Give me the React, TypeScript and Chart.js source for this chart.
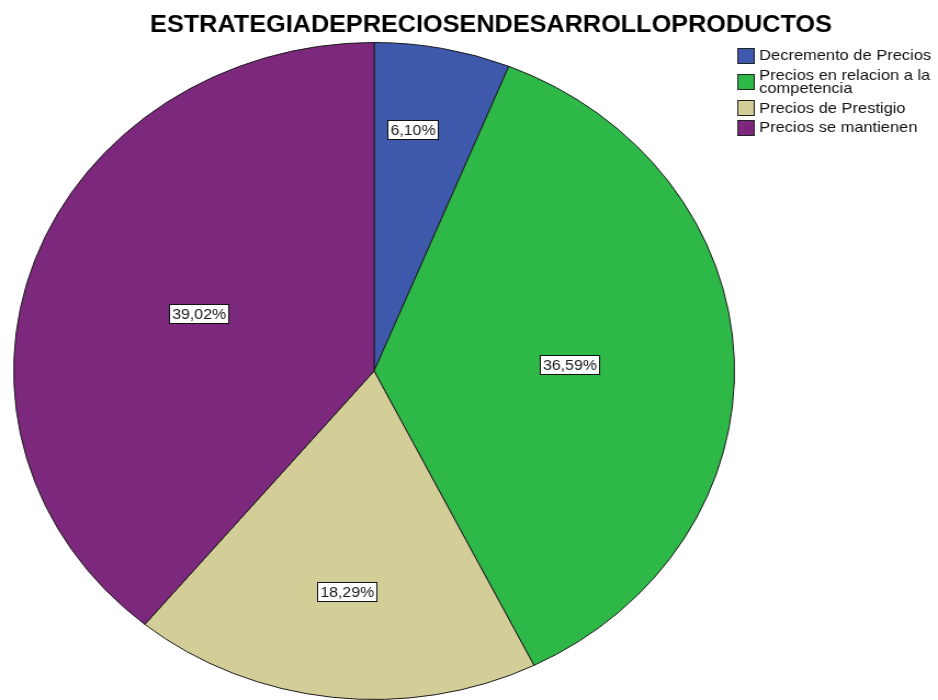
import React, { useEffect, useRef } from "react";
import { Chart, registerables } from "chart.js";

Chart.register(...registerables);

const chartTitle = "ESTRATEGIADEPRECIOSENDESARROLLOPRODUCTOS";
const categories = [
  "Decremento de Precios",
  "Precios en relacion a la competencia",
  "Precios de Prestigio",
  "Precios se mantienen",
];
const legendLines = [
  ["Decremento de Precios"],
  ["Precios en relacion a la", "competencia"],
  ["Precios de Prestigio"],
  ["Precios se mantienen"],
];
const counts = [5, 30, 15, 32];
const colors = ["#3E58AC", "#2EB848", "#D3CE97", "#7C287D"];
const labelRadius = [0.742, 0.541, 0.676, 0.519];
const labelAnglePos = [0.38, 0.5, 0.5, 0.5];

const FONT = '"Liberation Sans", Arial, sans-serif';
const CANVAS_W = 855;
const CANVAS_H = 700;
const STRETCH = 938 / CANVAS_W;

const total = counts.reduce((a, b) => a + b, 0);
const pctText = counts.map((v) => ((v / total) * 100).toFixed(2).replace(".", ",") + "%");

const decorPlugin = {
  id: "decor",
  afterDraw(chart: any) {
    const ctx = chart.ctx as CanvasRenderingContext2D;
    ctx.save();
    // title
    ctx.fillStyle = "#000";
    ctx.font = `bold 23px ${FONT}`;
    ctx.textAlign = "center";
    ctx.textBaseline = "middle";
    ctx.fillText(chartTitle, 447.6, 26);

    // slice labels
    const meta = chart.getDatasetMeta(0);
    ctx.font = `14.5px ${FONT}`;
    meta.data.forEach((arc: any, i: number) => {
      const p = arc.getProps(["x", "y", "startAngle", "endAngle", "outerRadius"], true);
      const a = p.startAngle + (p.endAngle - p.startAngle) * labelAnglePos[i];
      const r = p.outerRadius * labelRadius[i];
      const lx = p.x + Math.cos(a) * r;
      const ly = p.y + Math.sin(a) * r;
      const txt = pctText[i];
      const tw = ctx.measureText(txt).width;
      const bw = Math.round(tw + 5);
      const bh = 19;
      const bx = Math.round(lx - bw / 2) + 0.5;
      const by = Math.round(ly - bh / 2) + 0.5;
      ctx.fillStyle = "#fff";
      ctx.fillRect(bx, by, bw, bh);
      ctx.strokeStyle = "#111";
      ctx.lineWidth = 1;
      ctx.strokeRect(bx, by, bw, bh);
      ctx.fillStyle = "#1a1a1a";
      ctx.textAlign = "center";
      ctx.textBaseline = "middle";
      ctx.fillText(txt, bx + bw / 2, by + bh / 2 + 0.5);
    });

    // legend
    ctx.font = `15px ${FONT}`;
    ctx.textAlign = "left";
    ctx.textBaseline = "middle";
    const lineH = 13;
    const itemGap = 19.7;
    let y = 55;
    legendLines.forEach((lines, i) => {
      const first = y;
      const last = y + (lines.length - 1) * lineH;
      const cy = (first + last) / 2;
      const sy = Math.round(cy - 7.5) + 0.5;
      ctx.fillStyle = colors[i];
      ctx.fillRect(672.5, sy, 15, 15);
      ctx.strokeStyle = "#222";
      ctx.strokeRect(672.5, sy, 15, 15);
      ctx.fillStyle = "#111";
      lines.forEach((ln, k) => ctx.fillText(ln, 692, first + k * lineH + 1));
      y = last + itemGap;
    });
    ctx.restore();
  },
};

export default function App() {
  const ref = useRef<HTMLCanvasElement | null>(null);
  useEffect(() => {
    if (!ref.current) return;
    const chart = new Chart(ref.current, {
      type: "pie",
      data: {
        labels: categories,
        datasets: [
          {
            data: counts,
            backgroundColor: colors,
            borderColor: "#1a1a1a",
            borderWidth: 1,
          },
        ],
      },
      options: {
        responsive: false,
        animation: false,
        layout: { padding: { top: 42, bottom: -5, left: 0, right: 173 } },
        plugins: {
          legend: { display: false },
          tooltip: { enabled: false },
          title: { display: false },
        },
      },
      plugins: [decorPlugin],
    });
    return () => chart.destroy();
  }, []);
  return (
    <div
      style={{
        position: "absolute",
        left: 0,
        top: 0,
        width: 938,
        height: 700,
        overflow: "hidden",
        background: "#fff",
      }}
    >
      <canvas
        ref={ref}
        width={CANVAS_W}
        height={CANVAS_H}
        style={{
          width: CANVAS_W,
          height: CANVAS_H,
          transform: `scaleX(${STRETCH})`,
          transformOrigin: "0 0",
        }}
      />
    </div>
  );
}
